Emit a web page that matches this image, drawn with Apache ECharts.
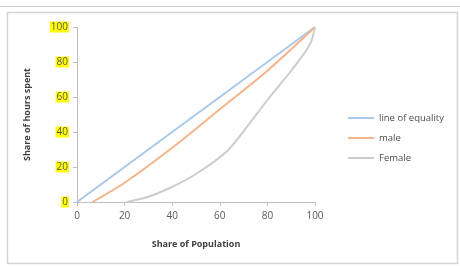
<!DOCTYPE html>
<html>
<head>
<meta charset="utf-8">
<script src="https://cdn.jsdelivr.net/npm/echarts@6/dist/echarts.min.js"></script>
<style>
  html, body { margin: 0; padding: 0; background: #fff; }
  #main { width: 460px; height: 266px; }
</style>
</head>
<body>
<div id="main"></div>
<script>
// values
var xTicks = [0, 20, 40, 60, 80, 100];
var equality = [[0, 0], [100, 100]];
var male = [[6.5, 0], [20, 11], [40, 31], [60, 53], [80, 75], [100, 100]];
var female = [[21, 0], [30, 3], [39, 8], [50, 16], [63, 29], [72, 44], [81, 60], [90, 75], [96, 86], [98.5, 92], [100, 100]];

var labelStyle = {
    color: '#595959',
    fontSize: 10,
    fontFamily: 'Open Sans',
    backgroundColor: '#ffff00',
    padding: [1, 1, 0, 1]
};

var chart = echarts.init(document.getElementById('main'));
chart.setOption({
    animation: false,
    backgroundColor: '#fff',
    textStyle: { fontFamily: 'Open Sans' },
    graphic: [
        { type: 'line', shape: { x1: 0, y1: 6.5, x2: 460, y2: 6.5 }, style: { stroke: '#cfcfcf', lineWidth: 1 } },
        { type: 'rect', shape: { x: 7.5, y: 12.5, width: 450, height: 251 }, style: { fill: null, stroke: '#d4d4d4', lineWidth: 1.5 } }
    ],
    grid: { left: 77, right: 145, top: 27, bottom: 64 },
    legend: {
        orient: 'vertical',
        left: 343,
        top: 108,
        itemWidth: 26,
        itemHeight: 2,
        itemGap: 10,
        icon: 'rect',
        textStyle: { color: '#4d4d4d', fontSize: 9.5 },
        data: ['line of equality', 'male', 'Female']
    },
    xAxis: {
        type: 'value',
        min: 0, max: 100, interval: 20,
        name: 'Share of Population',
        nameLocation: 'middle',
        nameGap: 38,
        nameTextStyle: { color: '#404040', fontSize: 9, fontWeight: 'bold' },
        axisLine: { lineStyle: { color: '#bfbfbf' } },
        axisTick: { show: true, length: 4, lineStyle: { color: '#bfbfbf' } },
        axisLabel: { color: '#595959', fontSize: 10, margin: 9 },
        splitLine: { show: false }
    },
    yAxis: {
        type: 'value',
        min: 0, max: 100, interval: 20,
        name: 'Share of hours spent',
        nameLocation: 'middle',
        nameGap: 45,
        nameTextStyle: { color: '#404040', fontSize: 9, fontWeight: 'bold' },
        axisLine: { show: true, lineStyle: { color: '#bfbfbf' } },
        axisTick: { show: true, length: 4, lineStyle: { color: '#bfbfbf' } },
        axisLabel: labelStyle,
        splitLine: { show: false }
    },
    series: [
        { name: 'line of equality', type: 'line', data: equality, showSymbol: false,
          lineStyle: { color: '#a9c9ea', width: 2 }, itemStyle: { color: '#a9c9ea' } },
        { name: 'male', type: 'line', data: male, smooth: 0.3, showSymbol: false,
          lineStyle: { color: '#f5b48a', width: 2 }, itemStyle: { color: '#f5b48a' } },
        { name: 'Female', type: 'line', data: female, smooth: 0.25, showSymbol: false,
          lineStyle: { color: '#cccccc', width: 2 }, itemStyle: { color: '#cccccc' } }
    ]
});
</script>
</body>
</html>
